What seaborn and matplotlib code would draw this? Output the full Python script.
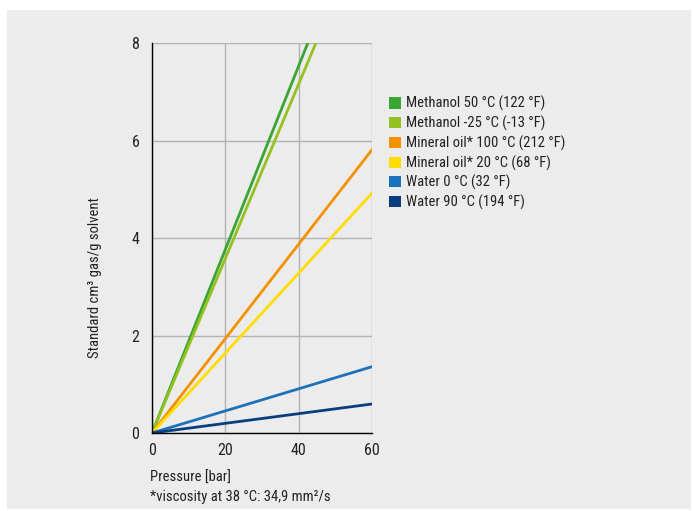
import matplotlib
matplotlib.use("Agg")
import matplotlib.pyplot as plt
import matplotlib.patches as mpatches
import seaborn as sns
import pandas as pd
from matplotlib import font_manager

series = ["Methanol 50 °C (122 °F)", "Methanol -25 °C (-13 °F)",
          "Mineral oil* 100 °C (212 °F)", "Mineral oil* 20 °C (68 °F)",
          "Water 0 °C (32 °F)", "Water 90 °C (194 °F)"]
pressure_start = [0, 0, 0, 0, 0, 0]
pressure_end = [42.5, 44.7, 60, 60, 60, 60]
value_start = [0, 0, 0, 0, 0, 0]
value_end = [8.0, 8.0, 5.81, 4.92, 1.36, 0.595]
colors = ["#3aa535", "#95c11f", "#f39200", "#ffdd00", "#1d71b8", "#0a3d7e"]
x_ticks = [0, 20, 40, 60]
y_ticks = [0, 2, 4, 6, 8]

sns.set_theme(style="white")
names = {f.name for f in font_manager.fontManager.ttflist}
fam = [f for f in ["Roboto Condensed", "Liberation Sans Narrow", "Liberation Sans", "DejaVu Sans"] if f in names]
plt.rcParams['font.family'] = fam + ["DejaVu Sans"]

rows = []
for s, x0, x1, y0, y1 in zip(series, pressure_start, pressure_end, value_start, value_end):
    rows.append({"series": s, "p": x0, "v": y0})
    rows.append({"series": s, "p": x1, "v": y1})
df = pd.DataFrame(rows)

fig = plt.figure(figsize=(6.93, 5.11), dpi=100, facecolor="white")
bg = mpatches.Rectangle((7/693, 2/511), 684/693, 499/511, transform=fig.transFigure,
                        facecolor="#ececec", edgecolor="none", zorder=-10)
fig.patches.append(bg)

ax = fig.add_axes([152/693, 78/511, 220/693, 390/511])
ax.set_zorder(1)
ax.set_facecolor("none")
sns.lineplot(data=df, x="p", y="v", hue="series", palette=dict(zip(series, colors)),
             hue_order=series, linewidth=2.0, ax=ax, legend=False, zorder=3)
ax.set_xlim(0, 60)
ax.set_ylim(0, 8)
ax.set_xticks(x_ticks)
ax.set_yticks(y_ticks)
ax.grid(True, color="#b3b3b3", linewidth=1.0)
for sp in ["top", "right"]:
    ax.spines[sp].set_visible(False)
for sp in ["left", "bottom"]:
    ax.spines[sp].set_color("black")
    ax.spines[sp].set_linewidth(1.0)
    ax.spines[sp].set_zorder(4)
ax.tick_params(axis="both", length=0, labelsize=11.5, colors="#222222")
ax.tick_params(axis="y", pad=9)
ax.tick_params(axis="x", pad=7)
ax.set_xlabel("")
ax.set_ylabel("")

fig.text(95/693, 1 - 278/511, "Standard cm³ gas/g solvent", fontsize=10.5, color="#222222",
         rotation=90, va="center", ha="center")
fig.text(150/693, 1 - 478/511, "Pressure [bar]", fontsize=10.5, color="#222222", va="center", ha="left")
fig.text(150/693, 1 - 497/511, "*viscosity at 38 °C: 34,9 mm²/s", fontsize=10.5, color="#222222", va="center", ha="left")

handles = [mpatches.Patch(facecolor=c, edgecolor="none", label=s) for s, c in zip(series, colors)]
fig.legend(handles=handles, loc="upper left", bbox_to_anchor=(376/693, 1 - 83/511),
           frameon=False, fontsize=10.5, handlelength=0.8, handleheight=0.8,
           handletextpad=0.35, labelspacing=0.3, labelcolor="#222222")

fig.savefig("out.png", dpi=100, facecolor="white")
